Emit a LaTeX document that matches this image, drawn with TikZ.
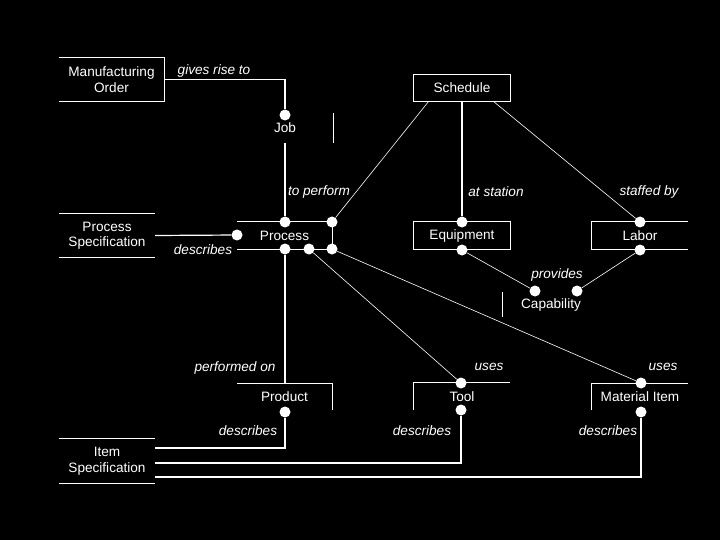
\documentclass[tikz,border=0pt]{standalone}
\usepackage{fontspec}
\setsansfont{Liberation Sans}
\usetikzlibrary{positioning,calc}

\begin{document}
\begin{tikzpicture}[
  x=1pt, y=-1pt,
  font=\sffamily\fontsize{13.6}{15.5}\selectfont,
  ent/.style={rectangle, minimum width=96pt, minimum height=27pt, inner sep=0pt,
              text=white, align=center},
  dot/.style={circle, fill=white, minimum size=11pt, inner sep=0pt},
  lbl/.style={text=white, inner sep=0pt, font=\sffamily\itshape\fontsize{13.6}{15.5}\selectfont},
  edge/.style={draw=white, line width=1.2pt},
  link/.style={draw=white, line width=0.6pt}
]
\fill[black] (0,0) rectangle (720,540);
\useasboundingbox (0,0) rectangle (720,540);

% entities
\node[ent, minimum width=105pt, minimum height=43pt] (mo) at (111.5,79.5) {Manufacturing\\Order};
\node[ent, minimum height=29pt] (job) at (285,128) {Job};
\node[ent, minimum width=95pt] (proc) at (284.5,235.5) {Process};
\node[ent, minimum height=43pt] (ps) at (107,235.5) {Process\\Specification};
\node[ent, minimum height=26pt] (sched) at (462,88) {Schedule};
\node[ent] (equip) at (462,235.5) {Equipment};
\node[ent] (labor) at (640,235.5) {Labor};
\node[ent, minimum height=25pt] (cap) at (551,304.5) {Capability};
\node[ent, minimum width=95pt, minimum height=26pt] (prod) at (284.5,397) {Product};
\node[ent] (tool) at (462,396.5) {Tool};
\node[ent, minimum height=26pt] (mat) at (640,397) {Material Item};
\node[ent, minimum height=44pt] (is) at (107,461) {Item\\Specification};

% outlines
\draw[edge] (mo.north west) -- (mo.north east) -- (mo.south east) -- (mo.south west);
\draw[edge] (job.north east) -- (job.south east);
\draw[edge] (proc.north west) -- (proc.north east) -- (proc.south east) -- (proc.south west);
\draw[edge] (ps.north west) -- (ps.north east);
\draw[edge] (ps.south west) -- (ps.south east);
\draw[edge] (sched.north west) rectangle (sched.south east);
\draw[edge] (equip.north west) rectangle (equip.south east);
\draw[edge] (labor.north east) -- (labor.north west) -- (labor.south west) -- (labor.south east);
\draw[edge] (cap.north west) -- (cap.south west);
\draw[edge] (prod.north west) -- (prod.north east) -- (prod.south east);
\draw[edge] (tool.south west) -- (tool.north west) -- (tool.north east);
\draw[edge] (mat.south west) -- (mat.north west) -- (mat.north east);
\draw[edge] (is.north west) -- (is.north east);
\draw[edge] (is.south west) -- (is.south east);

% dots
\node[dot] (jobT) at (285,115) {};
\node[dot] (procL) at (237,235) {};
\node[dot] (procT1) at (285,222) {};
\node[dot] (procT2) at (332,222) {};
\node[dot] (procB1) at (285,249) {};
\node[dot] (procB2) at (309,249) {};
\node[dot] (procB3) at (332,249) {};
\node[dot] (equipT) at (462,222) {};
\node[dot] (equipB) at (462,250) {};
\node[dot] (laborT) at (640,222) {};
\node[dot] (laborB) at (640,250) {};
\node[dot] (capL) at (535,291) {};
\node[dot] (capR) at (577,291) {};
\node[dot] (prodB) at (285,412) {};
\node[dot] (toolT) at (461,383) {};
\node[dot] (toolB) at (461,410) {};
\node[dot] (matT) at (641,383) {};
\node[dot] (matB) at (641,412) {};

% connectors
\draw[edge] (mo.east) -| (jobT);
\draw[edge] (job.south) -- (procT1);
\draw[edge] (ps.east) -- (procL);
\draw[link] ([xshift=15pt]sched.south west) -- (procT2);
\draw[edge] (sched.south) -- (equipT);
\draw[link] ([xshift=-17pt]sched.south east) -- (laborT);
\draw[link] (equipB) -- (capL);
\draw[link] (laborB) -- (capR);
\draw[edge] (procB1) -- (procB1 |- prod.north);
\draw[link] (procB2) -- (toolT);
\draw[link] (procB3) -- (matT);
\draw[edge] ([yshift=13pt]is.east) -| (prodB);
\draw[edge] ([yshift=-2pt]is.east) -| (toolB);
\draw[edge] ([yshift=-16pt]is.east) -| (matB);

% labels
\node[lbl] (l1) at (214,71) {gives rise to};
\node[lbl] (l2) at (319,192) {to perform};
\node[lbl] (l3) at (203,250) {describes};
\node[lbl] (l4) at (496,192) {at station};
\node[lbl] (l5) at (649,192) {staffed by};
\node[lbl] (l6) at (557,275) {provides};
\node[lbl] (l7) at (235,368) {performed on};
\node[lbl] (l8) at (489,367) {uses};
\node[lbl] (l9) at (663,367) {uses};
\node[lbl] (l10) at (248,431) {describes};
\node[lbl] (l11) at (422,431) {describes};
\node[lbl] (l12) at (608,431) {describes};
\end{tikzpicture}
\end{document}
